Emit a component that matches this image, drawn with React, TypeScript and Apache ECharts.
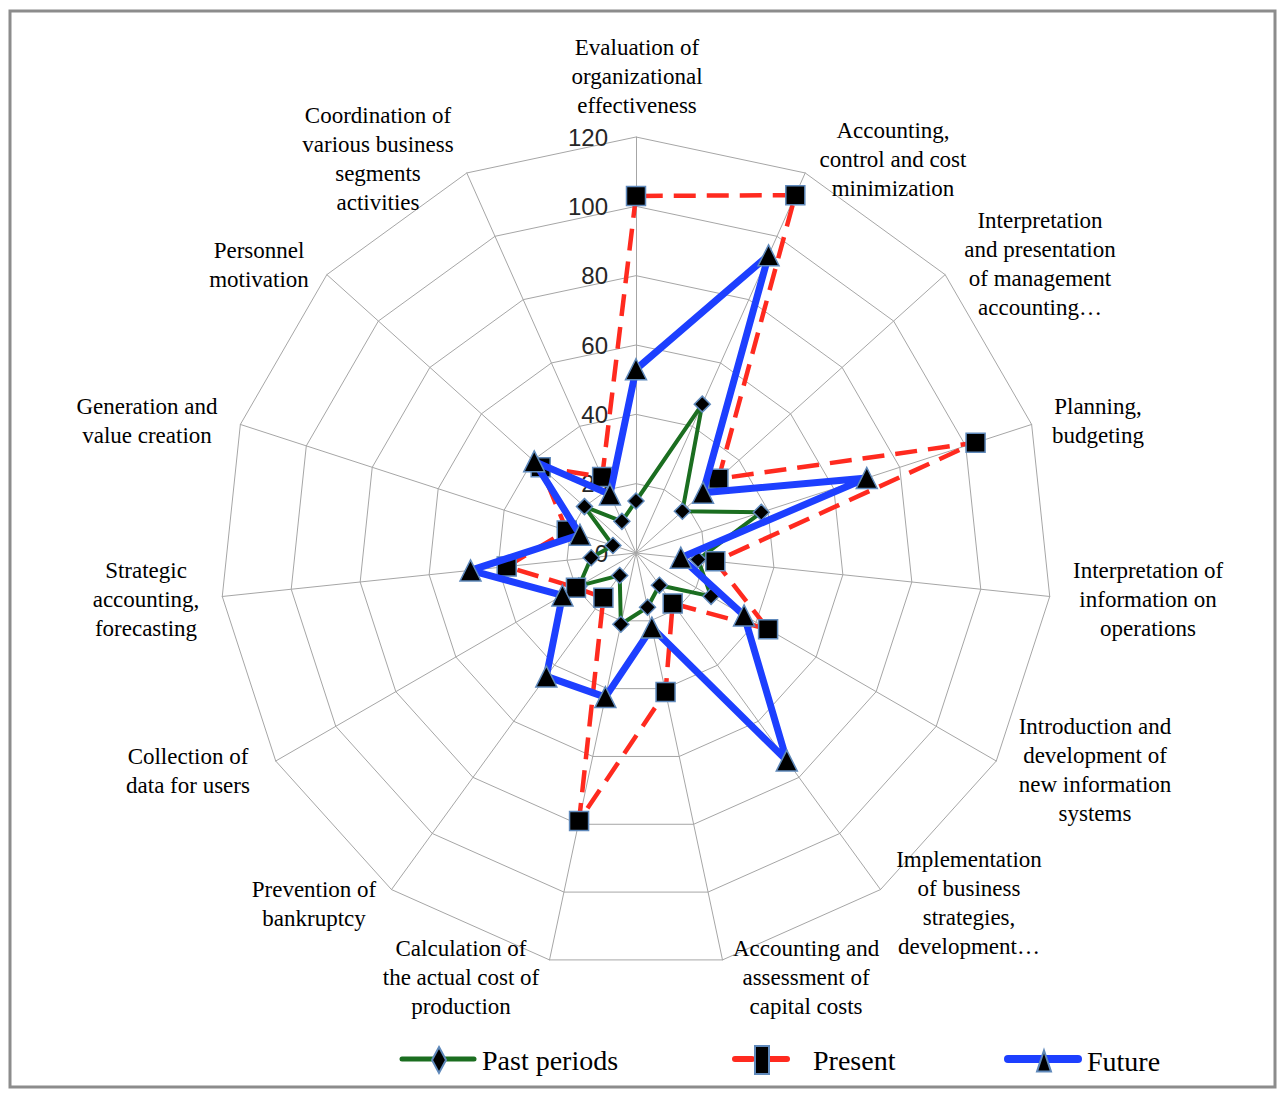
import React, { useEffect, useRef } from "react";
import * as echarts from "echarts";

const indicators = [
  "Evaluation of\norganizational\neffectiveness",
  "Accounting,\ncontrol and cost\nminimization",
  "Interpretation\nand presentation\nof management\naccounting…",
  "Planning,\nbudgeting",
  "Interpretation of\ninformation on\noperations",
  "Introduction and\ndevelopment of\nnew information\nsystems",
  "Implementation\nof business\nstrategies,\ndevelopment…",
  "Accounting and\nassessment of\ncapital costs",
  "Calculation of\nthe actual cost of\nproduction",
  "Prevention of\nbankruptcy",
  "Collection of\ndata for users",
  "Strategic\naccounting,\nforecasting",
  "Generation and\nvalue creation",
  "Personnel\nmotivation",
  "Coordination of\nvarious business\nsegments\nactivities",
];

const pastPeriods = [15, 47, 18, 38, 18, 25, 11.5, 16, 21, 8, 19, 13, 7, 20, 10];
const present = [103, 113, 32, 103, 23, 44, 18, 41, 79, 16, 20, 37.5, 21, 37, 24];
const future = [53, 94, 26, 70, 13, 36, 74, 22, 42.5, 44, 24.5, 48, 17, 39.5, 18.5];

const seriesNames = ["Past periods", "Present", "Future"];
const axisMax = 120;

// label placement (center x, top y) for each indicator name
const labelPos: [number, number][] = [
  [637, 33], [893, 116], [1040, 206], [1098, 392], [1148, 556],
  [1095, 712], [969, 845], [806, 934], [461, 934], [314, 875],
  [188, 742], [146, 556], [147, 392], [259, 236], [378, 101],
];

// ECharts radar runs counter-clockwise; reorder so the chart runs clockwise
const order = indicators.map((_, i) => (i === 0 ? 0 : indicators.length - i));
const reorder = (arr: number[]) => order.map((i) => arr[i]);

export default function App() {
  const ref = useRef<HTMLDivElement>(null);
  useEffect(() => {
    if (!ref.current) return;
    const chart = echarts.init(ref.current, null, { renderer: "svg" });
    const symBorder = { borderColor: "#5f89bb", borderWidth: 1.5, color: "#000" };
    const serif = "'Liberation Serif', 'Times New Roman', serif";
    const legendText = { fontSize: 28, fontFamily: serif, color: "#000" };
    chart.setOption({
      animation: false,
      backgroundColor: "#fff",
      radar: {
        center: [636, 553],
        radius: 416,
        startAngle: 90,
        splitNumber: 6,
        shape: "polygon",
        indicator: order.map((i, j) => ({
          name: indicators[i],
          min: 0,
          max: axisMax,
          axisLabel:
            j === 0
              ? { show: true, fontSize: 24, margin: 28, color: "#262626", fontFamily: "'Liberation Sans', Arial, sans-serif", showMinLabel: true, showMaxLabel: true }
              : { show: false },
        })),
        axisName: { show: false },
        splitLine: { lineStyle: { color: "#a6a6a6", width: 1 } },
        splitArea: { show: false },
        axisLine: { lineStyle: { color: "#a6a6a6", width: 1 } },
        axisTick: { show: false },
        axisLabel: { show: false },
      },
      legend: [
        {
          data: [seriesNames[0]],
          left: 400, top: 1046, padding: 0, itemWidth: 76, itemHeight: 26,
          icon: "path://M0 13 L0 13 M76 13 L76 13 M38 0 L45 13 L38 26 L31 13 Z",
          selectedMode: false,
          textStyle: legendText,
        },
        {
          data: [seriesNames[1]],
          left: 732, top: 1045, padding: 0, itemWidth: 58, itemHeight: 28,
          icon: "path://M0 14 L0 14 M58 14 L58 14 M22 0 H36 V28 H22 Z",
          selectedMode: false,
          textStyle: { ...legendText, padding: [0, 0, 0, 17] },
        },
        {
          data: [seriesNames[2]],
          left: 1005, top: 1047, padding: 0, itemWidth: 76, itemHeight: 21,
          icon: "path://M0 21 L0 21 M76 21 L76 21 M38 0 L45 21 L31 21 Z",
          selectedMode: false,
          textStyle: legendText,
        },
      ],
      graphic: [
        {
          type: "rect", z: 0, silent: true,
          shape: { x: 10, y: 11, width: 1265, height: 1076 },
          style: { fill: "none", stroke: "#8c8c8c", lineWidth: 3 },
        },
        { type: "line", z: 0, silent: true, shape: { x1: 402, y1: 1059, x2: 474, y2: 1059 }, style: { stroke: "#1b6e20", lineWidth: 5, lineCap: "round" } },
        { type: "line", z: 0, silent: true, shape: { x1: 735, y1: 1059, x2: 752, y2: 1059 }, style: { stroke: "#ff2a1f", lineWidth: 6, lineCap: "round" } },
        { type: "line", z: 0, silent: true, shape: { x1: 770, y1: 1059, x2: 787, y2: 1059 }, style: { stroke: "#ff2a1f", lineWidth: 6, lineCap: "round" } },
        { type: "line", z: 0, silent: true, shape: { x1: 1008, y1: 1059, x2: 1078, y2: 1059 }, style: { stroke: "#1d3fff", lineWidth: 8, lineCap: "round" } },
        ...indicators.map((t, i) => ({
          type: "text",
          z: 1,
          silent: true,
          x: labelPos[i][0],
          y: labelPos[i][1],
          style: {
            text: t,
            fill: "#000",
            font: `23px ${serif}`,
            textAlign: "center",
            textVerticalAlign: "top",
            lineHeight: 29,
          },
        })),
      ],
      series: [
        {
          type: "radar",
          name: seriesNames[0],
          z: 2,
          symbol: "diamond",
          symbolSize: 16,
          lineStyle: { color: "#1b6e20", width: 4 },
          itemStyle: symBorder,
          data: [{ value: reorder(pastPeriods), name: seriesNames[0] }],
        },
        {
          type: "radar",
          name: seriesNames[1],
          z: 3,
          symbol: "rect",
          symbolSize: 19,
          lineStyle: { color: "#ff2a1f", width: 4.5, type: [22, 11] },
          itemStyle: symBorder,
          data: [{ value: reorder(present), name: seriesNames[1] }],
        },
        {
          type: "radar",
          name: seriesNames[2],
          z: 4,
          symbol: "triangle",
          symbolSize: 21,
          lineStyle: { color: "#1d3fff", width: 7 },
          itemStyle: symBorder,
          data: [{ value: reorder(future), name: seriesNames[2] }],
        },
      ],
    });
    return () => chart.dispose();
  }, []);
  return (
    <div
      ref={ref}
      style={{ position: "absolute", left: 0, top: 0, width: 1286, height: 1098 }}
    />
  );
}
